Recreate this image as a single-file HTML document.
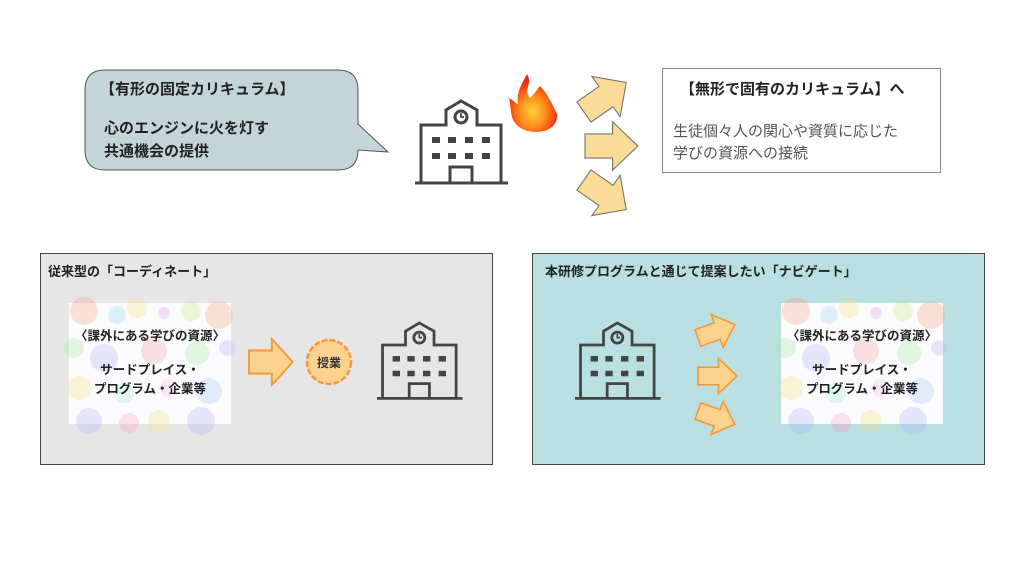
<!DOCTYPE html>
<html><head><meta charset="utf-8"><style>
html,body{margin:0;padding:0;background:#fff}
svg{display:block}
text{font-family:"Liberation Sans","Noto Sans CJK JP",sans-serif}
</style></head><body>
<svg width="1024" height="576" viewBox="0 0 1024 576" xmlns="http://www.w3.org/2000/svg">
<defs>
<g id="bld" fill="none" stroke="#444" stroke-width="3">
<path d="M6 83 V25 H31 V10 L46 1 L62 10 V25 H86 V83"/>
<line x1="0" y1="83" x2="93" y2="83"/>
<circle cx="46" cy="17" r="6"/>
<path d="M46 13 V17 H49" stroke-width="1.8"/>
<path d="M35 83 V67 H57 V83"/>
<g fill="#444" stroke="none">
<rect x="17" y="37" width="8" height="6"/><rect x="33" y="37" width="8" height="6"/><rect x="50" y="37" width="8" height="6"/><rect x="67" y="37" width="8" height="6"/>
<rect x="17" y="53" width="8" height="6"/><rect x="33" y="53" width="8" height="6"/><rect x="50" y="53" width="8" height="6"/><rect x="67" y="53" width="8" height="6"/>
</g>
</g>
<polygon id="arr" points="0,-11 24,-11 24,-22 46,0 24,22 24,11 0,11"/>
<g id="dots">
<rect width="162" height="121" fill="#fcfbfd"/>
<g opacity="0.3">
<circle cx="15" cy="8" r="14" fill="#f7a07a"/><circle cx="48" cy="12" r="9" fill="#8fd6e8"/><circle cx="68" cy="5" r="10" fill="#f7e07a"/><circle cx="95" cy="10" r="6" fill="#e59ae8"/><circle cx="122" cy="8" r="10" fill="#c6e87a"/><circle cx="150" cy="12" r="14" fill="#f7a07a"/>
<circle cx="5" cy="45" r="10" fill="#a0e8a0"/><circle cx="35" cy="55" r="14" fill="#b0b0f7"/><circle cx="85" cy="48" r="13" fill="#f7a0a0"/><circle cx="128" cy="50" r="12" fill="#a0e8a0"/><circle cx="158" cy="45" r="8" fill="#b0b0f7"/>
<circle cx="10" cy="85" r="12" fill="#f7e07a"/><circle cx="55" cy="90" r="10" fill="#a0e8d0"/><circle cx="100" cy="85" r="9" fill="#f7c0e0"/><circle cx="140" cy="88" r="13" fill="#a0c8f7"/>
<circle cx="20" cy="118" r="13" fill="#b0b0f7"/><circle cx="60" cy="120" r="10" fill="#f7a0c0"/><circle cx="90" cy="118" r="11" fill="#f7e07a"/><circle cx="132" cy="118" r="14" fill="#b0b0f7"/>
</g>
<text x="81" y="37" font-size="12.5" font-weight="bold" text-anchor="middle" fill="#222">〈課外にある学びの資源〉</text>
<text x="81" y="71" font-size="12.5" font-weight="bold" text-anchor="middle" fill="#222">サードプレイス・</text>
<text x="81" y="90" font-size="12.5" font-weight="bold" text-anchor="middle" fill="#222">プログラム・企業等</text>
</g>
</defs>

<path d="M105 70 H338 Q358 70 358 90 V124 L388 152 L358 150 V150 Q358 170 338 170 H105 Q85 170 85 150 V90 Q85 70 105 70 Z" fill="#c3d5d7" stroke="#555" stroke-width="1"/>
<text x="100" y="94" font-size="15" font-weight="bold" fill="#222">【有形の固定カリキュラム】</text>
<text x="104" y="133" font-size="15" font-weight="bold" fill="#222">心のエンジンに火を灯す</text>
<text x="104" y="156" font-size="15" font-weight="bold" fill="#222">共通機会の提供</text>

<use href="#bld" x="415" y="100"/>

<defs><radialGradient id="fl" cx="0.5" cy="0.65" r="0.55"><stop offset="0" stop-color="#ffd23a"/><stop offset="0.5" stop-color="#ff8a1a"/><stop offset="1" stop-color="#f2200f"/></radialGradient></defs>
<path d="M527 74 C533 84 523 90 530 98 C536 92 538 88 540 86 C548 94 552 104 557 114 C558 126 548 132 536 132 C522 132 512 124 511 112 C510 104 510 99 508 98 C514 100 516 104 518 104 C516 92 522 84 527 74 Z" fill="url(#fl)"/>

<g fill="#fbdc96" stroke="#777" stroke-width="1">
<use href="#arr" transform="translate(584,112) rotate(-35) scale(1.12)"/>
<use href="#arr" transform="translate(585,146) scale(1.15,1.1)"/>
<use href="#arr" transform="translate(584,180) rotate(35) scale(1.12)"/>
</g>

<rect x="662.5" y="68.5" width="278" height="104" fill="#fff" stroke="#888"/>
<text x="680" y="94" font-size="15" font-weight="bold" fill="#222">【無形で固有のカリキュラム】へ</text>
<text x="673" y="136" font-size="15" fill="#555">生徒個々人の関心や資質に応じた</text>
<text x="673" y="158" font-size="15" fill="#555">学びの資源への接続</text>

<rect x="40.5" y="253.5" width="452" height="211" fill="#e6e6e6" stroke="#444"/>
<text x="48" y="276" font-size="13" font-weight="bold" fill="#222">従来型の「コーディネート」</text>
<use href="#dots" x="69" y="303"/>
<g fill="#fcd38e" stroke="#f59a3c" stroke-width="2"><use href="#arr" transform="translate(249,362) scale(0.95,1.05)"/></g>
<circle cx="329" cy="362" r="22" fill="#fcd38e" stroke="#f59a3c" stroke-width="2.5" stroke-dasharray="6 2"/>
<text x="329" y="367" font-size="12" font-weight="bold" text-anchor="middle" fill="#333">授業</text>
<use href="#bld" transform="translate(377,322) scale(0.92)"/>

<rect x="532.5" y="253.5" width="452" height="211" fill="#b9dfe1" stroke="#444"/>
<text x="545" y="276" font-size="13" font-weight="bold" fill="#222">本研修プログラムと通じて提案したい「ナビゲート」</text>
<use href="#bld" transform="translate(575,322) scale(0.92)"/>
<g fill="#fcd38e" stroke="#f59a3c" stroke-width="2">
<use href="#arr" transform="translate(698,338) rotate(-20) scale(0.85,0.8)"/>
<use href="#arr" transform="translate(698,376) scale(0.85,0.8)"/>
<use href="#arr" transform="translate(698,411) rotate(20) scale(0.85,0.8)"/>
</g>
<use href="#dots" x="781" y="303"/>
</svg>
</body></html>
